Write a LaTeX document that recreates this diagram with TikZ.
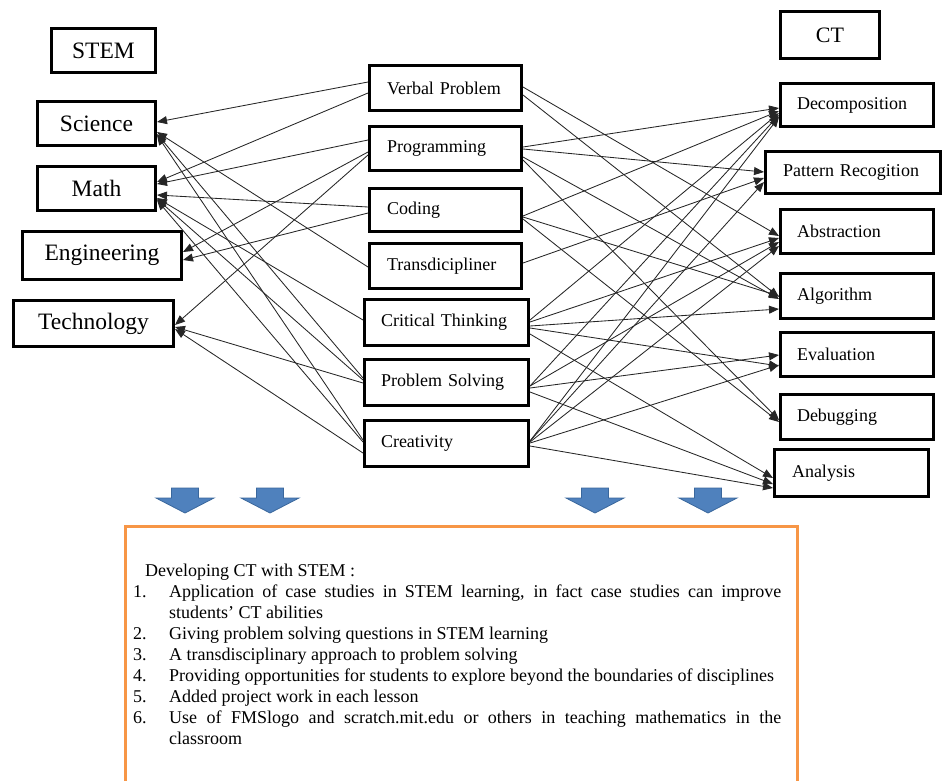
\documentclass[tikz,border=0pt]{standalone}
\usepackage{fontspec}
\setmainfont{Liberation Serif}
\usetikzlibrary{arrows.meta}
\definecolor{boxorange}{HTML}{F79646}
\definecolor{arrowblue}{HTML}{4F81BD}
\definecolor{arrowblueedge}{HTML}{3A679C}
\definecolor{linkgray}{HTML}{262626}
\newcommand\lnkL[4]{\draw[link] ([yshift=#2pt]#1.west) -- ([yshift=#4pt]#3.east);}
\newcommand\lnkR[4]{\draw[link] ([yshift=#2pt]#1.east) -- ([yshift=#4pt]#3.west);}
\newcommand\itm[2]{\par\hangindent=36pt\hangafter=1\noindent\makebox[36pt][l]{#1}#2}
\begin{document}
\begin{tikzpicture}[x=1pt,y=-1pt,
  box/.style={draw=black, line width=3.2pt, rectangle, inner ysep=0pt},
  stembox/.style={box, inner xsep=0pt, font=\fontsize{23.5}{26}\selectfont, align=center},
  midbox/.style={box, inner xsep=17.4pt, text width=117pt, align=left, font=\fontsize{18}{20}\selectfont},
  midboxw/.style={box, inner xsep=16.4pt, text width=131pt, align=left, font=\fontsize{18}{20}\selectfont},
  ctbox/.style={box, inner xsep=16.4pt, text width=120pt, align=left, font=\fontsize{18}{20}\selectfont},
  link/.style={draw=linkgray, line width=0.85pt, -{Triangle[length=10pt,width=8pt]}},
  bluedown/.pic={\filldraw[fill=arrowblue, draw=arrowblueedge, line width=0.8pt]
     (-13.5,0) -- (13.5,0) -- (13.5,10) -- (29,10) -- (0,25) -- (-29,10) -- (-13.5,10) -- cycle;}
]
\useasboundingbox (0,0) rectangle (942,780);
\clip (0,0) rectangle (942,780);

% STEM column
\node[stembox, minimum width=103.8pt, minimum height=43.8pt] (stem) at (103.5,50.5) {STEM};
\node[stembox, minimum width=117.8pt, minimum height=43.8pt] (sci) at (96.5,123.5) {Science};
\node[stembox, minimum width=117.8pt, minimum height=43.8pt] (math) at (96.5,188.5) {Math};
\node[stembox, minimum width=158.8pt, minimum height=47.8pt] (eng) at (102,255.5) {Engineering};
\node[stembox, minimum width=159.8pt, minimum height=45.8pt] (tech) at (93.5,323.5) {Technology};

% middle column
\node[midbox, minimum height=44.8pt] (vp) at (445.5,88) {Verbal Problem};
\node[midbox, minimum height=43.8pt] (prog) at (445.5,148.5) {Programming};
\node[midbox, minimum height=42.8pt] (cod) at (445.5,210) {Coding};
\node[midbox, minimum height=44.8pt] (trans) at (445.5,266) {Transdicipliner};
\node[midboxw, minimum height=45.8pt] (crit) at (446.5,322.5) {Critical Thinking};
\node[midboxw, minimum height=45.8pt] (ps) at (446.5,382.5) {Problem Solving};
\node[midboxw, minimum height=45.8pt] (cre) at (446.5,443.5) {Creativity};

% CT column
\node[stembox, font=\fontsize{22}{24}\selectfont, minimum width=98.8pt, minimum height=46.8pt] (ct) at (830,35) {CT};
\node[ctbox, minimum height=42.8pt] (dec) at (857,105) {Decomposition};
\node[box, inner xsep=17.4pt, text width=140pt, align=left, font=\fontsize{18}{20}\selectfont, minimum height=41.8pt] (pat) at (853,172.5) {Pattern Recogition};
\node[ctbox, minimum height=43.8pt] (abs) at (857,231.5) {Abstraction};
\node[ctbox, minimum height=44.8pt] (alg) at (857,296) {Algorithm};
\node[ctbox, minimum height=43.8pt] (eval) at (857,354.5) {Evaluation};
\node[ctbox, minimum height=44.8pt] (deb) at (857,417) {Debugging};
\node[box, inner xsep=17.4pt, text width=119pt, align=left, font=\fontsize{18}{20}\selectfont, minimum height=46.8pt] (ana) at (851.5,473) {Analysis};

% left connectors
\lnkL{vp}{6}{sci}{1.5}
\lnkL{vp}{-5}{math}{6.5}
\lnkL{prog}{8.5}{math}{4.5}
\lnkL{prog}{-3.5}{eng}{3.5}
\lnkL{prog}{-6.5}{tech}{-1.5}
\lnkL{cod}{3}{math}{-6.5}
\lnkL{cod}{-3}{eng}{-4.5}
\lnkL{trans}{-1}{sci}{-8.5}
\lnkL{crit}{2.5}{math}{-9.5}
\lnkL{ps}{4.5}{sci}{-10.5}
\lnkL{ps}{2.5}{math}{-10.5}
\lnkL{ps}{-0.5}{tech}{-3.5}
\lnkL{cre}{3.5}{sci}{-11.5}
\lnkL{cre}{1.5}{math}{-11.5}
\lnkL{cre}{-9.5}{tech}{-5.5}

% right connectors
\lnkR{vp}{1}{abs}{-4.5}
\lnkR{vp}{-7}{alg}{-1}
\lnkR{prog}{1.5}{dec}{-3}
\lnkR{prog}{-0.5}{pat}{0.5}
\lnkR{prog}{-8.5}{alg}{-3}
\lnkR{prog}{-11.5}{deb}{-3}
\lnkR{cod}{-6}{dec}{-6}
\lnkR{cod}{-7}{alg}{0}
\lnkR{cod}{-9}{deb}{-5}
\lnkR{trans}{3}{pat}{-5.5}
\lnkR{crit}{2.5}{dec}{-8}
\lnkR{crit}{0.5}{abs}{-6.5}
\lnkR{crit}{-3.5}{alg}{-13}
\lnkR{crit}{-5.5}{eval}{-11.5}
\lnkR{crit}{-11.5}{ana}{-5}
\lnkR{ps}{-3.5}{dec}{-10}
\lnkR{ps}{-3.5}{abs}{-10.5}
\lnkR{ps}{-5.5}{eval}{-0.5}
\lnkR{ps}{-9.5}{ana}{-11}
\lnkR{cre}{2.5}{dec}{-12}
\lnkR{cre}{2.5}{pat}{-9.5}
\lnkR{cre}{1.5}{abs}{-14.5}
\lnkR{cre}{0.5}{eval}{-10.5}
\lnkR{cre}{-2.5}{ana}{-15}

% block arrows
\pic at (185,488) {bluedown};
\pic at (270,488) {bluedown};
\pic at (595,488) {bluedown};
\pic at (708,488) {bluedown};

% orange frame
\draw[boxorange, line width=3pt] (125.5,782) -- (125.5,526.5) -- (797.5,526.5) -- (797.5,782);

% list text
\node[anchor=north west, inner sep=0pt, text width=648pt, align=justify,
      font=\fontsize{18}{21}\selectfont] (list) at (133,561.3) {%
  \hyphenpenalty=10000 \tolerance=9999 \parindent=0pt
  \strut\hspace*{12pt}Developing CT with STEM :
  \itm{1.}{Application of case studies in STEM learning, in fact case studies can improve students' CT abilities}
  \itm{2.}{Giving problem solving questions in STEM learning}
  \itm{3.}{A transdisciplinary approach to problem solving}
  \itm{4.}{Providing opportunities for students to explore beyond the boundaries of disciplines}
  \itm{5.}{Added project work in each lesson}
  \itm{6.}{Use of FMSlogo and scratch.mit.edu or others in teaching mathematics in the classroom}\par};
\end{tikzpicture}
\end{document}
